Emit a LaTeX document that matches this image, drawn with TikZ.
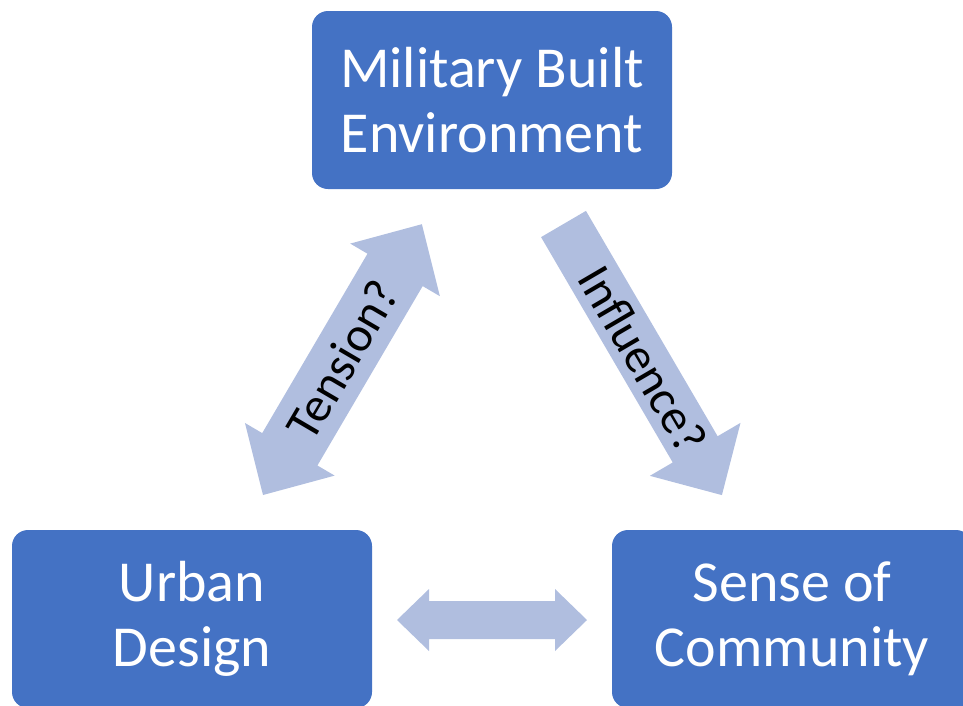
\documentclass[tikz,border=0pt]{standalone}
\usepackage{fontspec}
\setmainfont{Carlito}
\definecolor{boxblue}{HTML}{4472C4}
\definecolor{arrowfillc}{HTML}{B0BEDF}
\begin{document}
\begin{tikzpicture}[x=1pt,y=-1pt,
  box/.style={fill=boxblue, rounded corners=16pt, minimum width=360pt, minimum height=178pt,
    text=white, align=center, font=\fontsize{58}{65}\selectfont, inner sep=0pt},
  blockarrow/.style={fill=arrowfillc, draw=none},
  arrowlabel/.style={font=\fontsize{49}{58}\selectfont, text=black, inner sep=0pt}]
\useasboundingbox (0,0) rectangle (963,705);

% boxes
\node[box] (mbe) at (492,100) {Military Built\\Environment};
\node[box] (ud) at (192,619) {Urban\\Design};
\node[box] (soc) at (792,619) {Sense of\\Community};

% Tension double arrow
\begin{scope}[shift={(263,495)}, rotate=59.6]
  \fill[blockarrow] (0,0) -- (53,52) -- (53,32) -- (261,32) -- (261,52) -- (314,0)
    -- (261,-52) -- (261,-32) -- (53,-32) -- (53,-52) -- cycle;
\end{scope}
\node[arrowlabel, rotate=59.6] (tension) at (342.5,359.5) {Tension?};

% Influence single arrow
\begin{scope}[shift={(563.5,224)}, rotate=-59.7]
  \fill[blockarrow] (0,26) -- (261,26) -- (261,52.5) -- (314,0) -- (261,-52.5)
    -- (261,-26) -- (0,-26) -- cycle;
\end{scope}
\node[arrowlabel, rotate=-59.7] (influence) at (643,359.5) {Influence?};

% horizontal double arrow
\begin{scope}[shift={(397,620)}]
  \fill[blockarrow] (0,0) -- (32,31) -- (32,19) -- (158,19) -- (158,31) -- (190,0)
    -- (158,-31) -- (158,-19) -- (32,-19) -- (32,-31) -- cycle;
\end{scope}
\end{tikzpicture}
\end{document}
